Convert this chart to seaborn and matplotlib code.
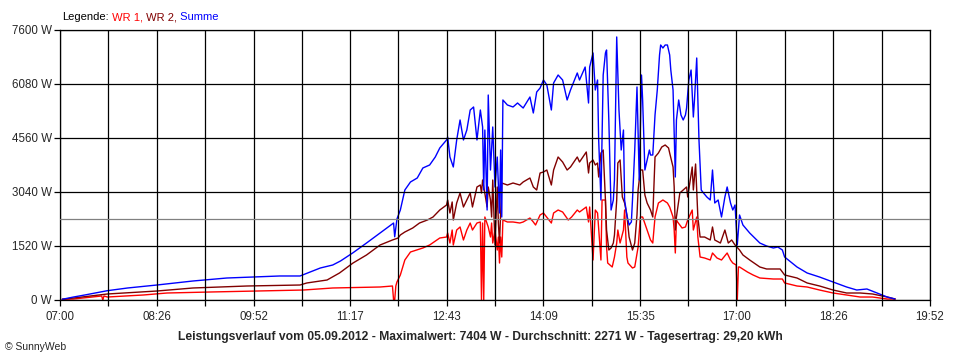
import pandas as pd
import seaborn as sns
import matplotlib
matplotlib.use('Agg')
import matplotlib.pyplot as plt

# x axis labels (time of day) and y axis ticks in W
time_labels = ['07:00', '08:26', '09:52', '11:17', '12:43', '14:09', '15:35', '17:00', '18:26', '19:52']
y_ticks = [0, 1520, 3040, 4560, 6080, 7600]
avg_w = 2271

# WR 1 (minutes after midnight, W)
wr1_min = [422, 432, 457, 458, 459, 462, 494, 515, 553, 636, 662, 704, 715, 716, 717, 718, 719, 722, 726, 731,
           742, 748, 757, 763, 764, 766, 768, 769, 772, 775, 778, 781, 784, 786, 790, 793, 794, 795, 796, 797,
           800, 802, 803, 804, 806, 808, 809, 810, 811, 812, 813, 817, 822, 828, 831, 837, 840, 842, 846, 849,
           856, 858, 862, 866, 871, 874, 879, 881, 887, 889, 890, 893, 895, 897, 900, 901, 904, 905, 906, 910,
           912, 914, 915, 917, 920, 921, 923, 924, 928, 930, 933, 935, 937, 941, 944, 946, 948, 951, 955, 959,
           961, 964, 965, 966, 967, 968, 972, 975, 977, 981, 982, 985, 986, 988, 992, 997, 999, 1003, 1007, 1012,
           1015, 1017, 1020, 1021, 1022, 1023, 1030, 1035, 1041, 1053, 1061, 1063, 1074, 1083, 1094, 1106, 1118,
           1130, 1141, 1154, 1161]
wr1_w = [20, 28, 113, 0, 113, 84, 141, 197, 225, 281, 338, 366, 394, 0, 0, 394, 507, 704, 1126, 1351,
         1464, 1548, 1745, 1773, 1886, 1604, 1970, 1548, 1970, 2055, 1689, 1970, 2167, 1970, 2167, 2196, 0, 2167, 0, 2336,
         2055, 1773, 2167, 1604, 1970, 1407, 1773, 1041, 1773, 1210, 2252, 2196, 2196, 2167, 2196, 2308, 2196, 2111, 2393, 2449,
         2167, 2449, 2533, 2477, 2252, 2336, 2533, 2477, 2618, 2196, 2618, 1126, 2533, 2449, 1126, 2815, 2815, 1492, 1041, 929,
         1210, 1604, 1970, 1604, 1970, 2533, 1210, 1041, 901, 929, 1492, 2336, 2336, 1970, 1689, 1604, 2336, 2730, 2815, 2730,
         2618, 2336, 1970, 1323, 2252, 2196, 2027, 2055, 2252, 2533, 1970, 2336, 1773, 1210, 1182, 1126, 1323, 1182, 1126, 1323,
         1126, 1041, 985, 0, 929, 929, 788, 704, 619, 591, 591, 479, 394, 366, 281, 197, 141,
         84, 84, 28, 28]

# WR 2
wr2_min = [422, 432, 462, 506, 538, 586, 633, 639, 657, 668, 680, 692, 704, 715, 720, 722, 726, 733, 739, 746,
           751, 757, 763, 764, 766, 768, 769, 772, 775, 778, 781, 784, 786, 790, 793, 794, 795, 799, 800, 802,
           803, 804, 806, 808, 809, 810, 812, 817, 822, 828, 831, 837, 840, 843, 846, 849, 852, 856, 858, 862,
           866, 870, 873, 879, 881, 887, 889, 890, 893, 895, 897, 898, 900, 902, 904, 905, 907, 909, 911, 912,
           914, 915, 917, 919, 921, 923, 925, 928, 930, 932, 933, 935, 937, 939, 941, 944, 946, 948, 951, 954,
           957, 960, 961, 964, 965, 966, 967, 970, 973, 976, 977, 981, 982, 984, 986, 988, 992, 997, 999, 1001,
           1006, 1010, 1013, 1016, 1019, 1023, 1026, 1032, 1041, 1047, 1059, 1063, 1074, 1083, 1094, 1106, 1118,
           1130, 1141, 1154, 1161]
wr2_w = [20, 56, 169, 253, 338, 394, 422, 479, 563, 760, 1041, 1267, 1548, 1689, 1745, 1830, 1914, 2027, 2167, 2252,
         2336, 2533, 2674, 2815, 2449, 2759, 2252, 2730, 3012, 2618, 2815, 3012, 2618, 3181, 3237, 3012, 3378, 2618, 3181, 2815,
         2336, 3378, 1548, 3181, 2167, 1604, 3293, 3237, 3293, 3237, 3322, 3434, 3181, 3096, 3575, 3603, 3659, 3237, 3659, 4025,
         3884, 3659, 3744, 4025, 3884, 4166, 3575, 3856, 3941, 3800, 3856, 3462, 4138, 4222, 2815, 1970, 1407, 1464, 1604, 1830,
         2815, 3856, 3941, 2899, 2730, 2393, 1773, 1407, 1604, 2393, 3096, 3659, 3659, 2956, 2730, 2533, 2336, 4025, 4138, 4307,
         4363, 4279, 4138, 3744, 3181, 1970, 2336, 3012, 3096, 3181, 2899, 3744, 3096, 3828, 2336, 1773, 1773, 1689, 2055, 1689,
         1604, 1970, 1604, 1689, 1548, 1407, 1267, 1126, 929, 873, 873, 704, 619, 479, 394, 281, 197,
         197, 169, 84, 28]

# Summe
summe_min = [422, 432, 442, 462, 480, 506, 538, 568, 591, 615, 633, 651, 662, 669, 677, 680, 692, 704, 716, 717,
             719, 722, 726, 731, 737, 742, 748, 753, 757, 763, 764, 766, 769, 772, 775, 778, 781, 784, 787, 790,
             793, 795, 796, 797, 799, 800, 802, 804, 806, 808, 810, 811, 812, 813, 817, 822, 826, 831, 837, 840,
             843, 846, 849, 852, 856, 858, 862, 866, 870, 873, 879, 881, 886, 889, 890, 893, 895, 897, 898, 900,
             902, 904, 905, 907, 909, 911, 912, 914, 916, 918, 920, 921, 923, 925, 927, 928, 930, 932, 934, 936,
             937, 939, 941, 943, 944, 946, 948, 950, 952, 953, 955, 957, 959, 961, 962, 964, 966, 967, 969, 971,
             973, 975, 976, 978, 980, 982, 983, 985, 987, 989, 991, 994, 997, 999, 1001, 1004, 1007, 1010, 1012,
             1015, 1017, 1019, 1021, 1023, 1026, 1032, 1041, 1047, 1053, 1057, 1061, 1063, 1074, 1083, 1094, 1106,
             1118, 1127, 1136, 1145, 1154, 1161]
summe_w = [20, 84, 141, 262, 338, 422, 535, 619, 647, 676, 676, 901, 985, 1100, 1267, 1330, 1604, 1886, 2167, 1780,
           2280, 2533, 3096, 3322, 3434, 3716, 3800, 4025, 4279, 4504, 4588, 4025, 3744, 4504, 5067, 4504, 4785, 5348, 5433, 4504,
           5348, 4870, 3096, 4785, 2533, 5770, 3659, 4870, 3181, 4025, 2449, 4222, 2336, 5630, 5489, 5433, 5545, 5404, 5714, 5264,
           5855, 5967, 6193, 6052, 5348, 6108, 6333, 6193, 5630, 5911, 6390, 6193, 6558, 5545, 6558, 6953, 5911, 6193, 4504, 2815,
           6333, 6953, 7037, 5067, 2533, 2815, 3378, 7404, 5348, 4222, 4785, 2815, 2393, 2111, 2196, 2815, 4222, 5996, 3378, 6333,
           5630, 3659, 3941, 4222, 4081, 4081, 5208, 5911, 6896, 7178, 7093, 7178, 7178, 6896, 6474, 5911, 3462, 5067, 5630, 5208,
           5067, 5208, 5404, 6193, 6474, 5151, 5630, 6812, 4504, 3096, 3012, 2899, 2815, 3659, 2730, 2815, 2336, 2899, 3181,
           2730, 2533, 2674, 1548, 2393, 2111, 1886, 1604, 1520, 1464, 1492, 1407, 1210, 929, 760, 647, 507,
           366, 281, 310, 197, 84, 28]

def hm(s):
    h, m = s.split(':')
    return int(h) * 60 + int(m)

df = pd.concat([
    pd.DataFrame({'t': wr1_min, 'W': wr1_w, 'Serie': 'WR 1'}),
    pd.DataFrame({'t': wr2_min, 'W': wr2_w, 'Serie': 'WR 2'}),
    pd.DataFrame({'t': summe_min, 'W': summe_w, 'Serie': 'Summe'}),
])

colors = {'WR 1': '#ff0000', 'WR 2': '#800000', 'Summe': '#0000ff'}

sns.set_style('white')
plt.rcParams['font.family'] = ['Liberation Sans', 'DejaVu Sans']

fig = plt.figure(figsize=(9.6, 3.6), dpi=100)
ax = fig.add_axes([60 / 960, 60 / 360, 870 / 960, 270 / 360])

sns.lineplot(
    data=df, x='t', y='W', hue='Serie',
    hue_order=['WR 1', 'WR 2', 'Summe'], palette=colors,
    estimator=None, linewidth=1.0,
    legend=False, ax=ax, zorder=2,
)

ax.axhline(avg_w, color='#808080', linewidth=0.9, zorder=4)

major = [hm(s) for s in time_labels]
minor = [(a + b) / 2 for a, b in zip(major[:-1], major[1:])]
ax.set_xlim(major[0], major[-1])
ax.set_ylim(y_ticks[0], y_ticks[-1])
ax.set_xticks(major)
ax.set_xticklabels(time_labels)
ax.set_xticks(minor, minor=True)
ax.set_yticks(y_ticks)
ax.set_yticklabels([f'{v} W' for v in y_ticks])
ax.set_xlabel('')
ax.set_ylabel('')

ax.grid(True, which='both', axis='x', color='black', linewidth=0.9, zorder=3)
ax.grid(True, which='major', axis='y', color='black', linewidth=0.9, zorder=3)
ax.set_axisbelow(False)
for sp in ax.spines.values():
    sp.set_color('black')
    sp.set_linewidth(0.9)

ax.tick_params(axis='x', which='both', bottom=True, length=4, width=0.9, color='black',
               labelsize=8.3, pad=4)
ax.tick_params(axis='y', left=True, length=4, width=0.9, color='black', labelsize=8.3, pad=2)

# legend line at the top
fig.canvas.draw()
r = fig.canvas.get_renderer()
x = 62
for s, c in [('Legende:', 'black'), (' WR 1,', colors['WR 1']),
             (' WR 2,', colors['WR 2']), (' Summe', colors['Summe'])]:
    t = fig.text(x / 960, 1 - 17 / 360, s, color=c, fontsize=8, va='center', ha='left')
    bb = t.get_window_extent(r)
    x = bb.x1

fig.text(0.5, 1 - 337 / 360,
         'Leistungsverlauf vom 05.09.2012 - Maximalwert: 7404 W - Durchschnitt: 2271 W - Tagesertrag: 29,20 kWh',
         ha='center', va='center', fontsize=8.7, fontweight='bold')
fig.text(5 / 960, 1 - 347 / 360, '\u00a9 SunnyWeb', ha='left', va='center', fontsize=7.5)

fig.savefig('out.png', dpi=100, facecolor='white')
